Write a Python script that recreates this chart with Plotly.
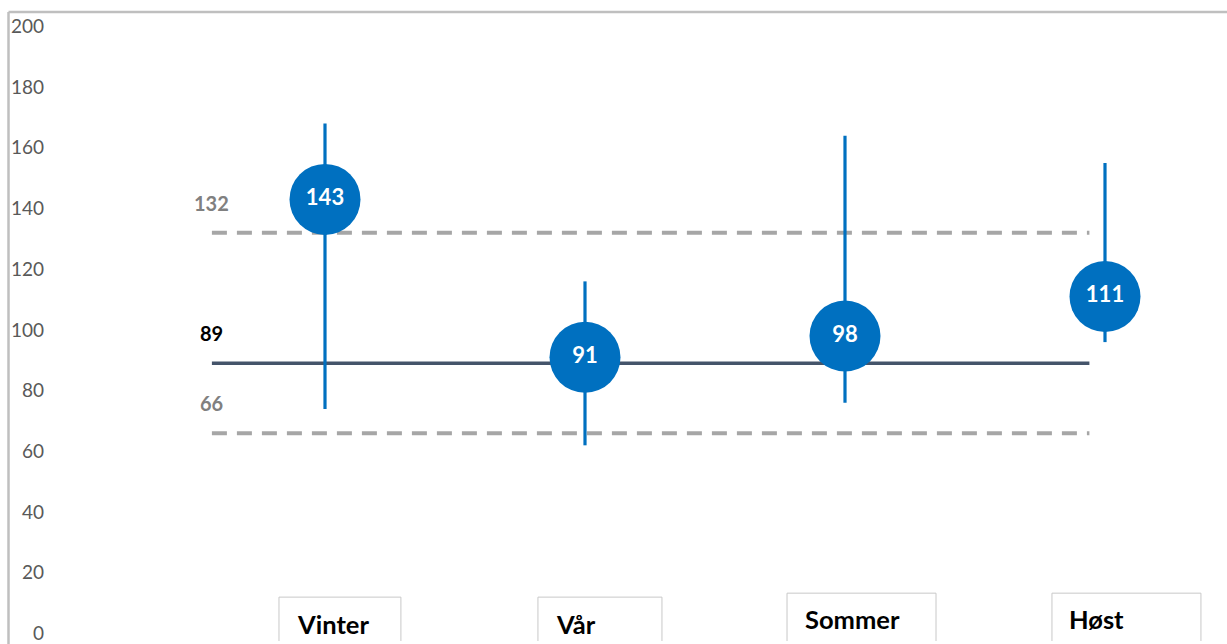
import plotly.graph_objects as go

# ---- data ----
categories = ["Vinter", "Vår", "Sommer", "Høst"]
values = [143, 91, 98, 111]
lows = [74, 62, 76, 96]
highs = [168, 116, 164, 155]
ref_labels = ["132", "89", "66"]
ref_values = [132, 89, 66]
y_ticks = [0, 20, 40, 60, 80, 100, 120, 140, 160, 180, 200]

BLUE = "#0070C0"
GREY_DASH = "#A6A6A6"
MEAN = "#44546A"
FONT = "Lato"

xpos = list(range(len(categories)))
line_x = [-0.435, 2.94]
Y0 = 636.5  # pixel row of value 0
PPU = 3.05  # pixels per unit

fig = go.Figure()

# reference lines (upper/lower dashed, mean solid)
ref_styles = [
    dict(color=GREY_DASH, width=4, dash="15px,10px"),
    dict(color=MEAN, width=3.5, dash="solid"),
    dict(color=GREY_DASH, width=4, dash="15px,10px"),
]
ref_label_colors = ["#808080", "#000000", "#808080"]
for lab, v, st in zip(ref_labels, ref_values, ref_styles):
    fig.add_trace(go.Scatter(x=line_x, y=[v, v], mode="lines", line=st,
                             hoverinfo="skip", showlegend=False))

# points with ranges
fig.add_trace(go.Scatter(
    x=xpos, y=values, mode="markers+text",
    marker=dict(size=71, color=BLUE, line=dict(width=0)),
    text=[str(v) for v in values], textposition="middle center",
    textfont=dict(family=FONT, size=22, color="white", weight="bold"),
    error_y=dict(type="data", symmetric=False,
                 array=[h - v for h, v in zip(highs, values)],
                 arrayminus=[v - l for v, l in zip(values, lows)],
                 color=BLUE, thickness=3.2, width=0),
    showlegend=False, hoverinfo="skip",
))

annotations = []
for lab, v, c in zip(ref_labels, ref_values, ref_label_colors):
    annotations.append(dict(x=line_x[0], y=v, text=f"<b>{lab}</b>", showarrow=False,
                            xanchor="center", yanchor="middle", yshift=30,
                            font=dict(family=FONT, size=20, color=c)))

# category label boxes
box_left = [-0.177, -0.181, -0.223, -0.204]
box_right = [0.292, 0.296, 0.350, 0.369]
box_top = [12.0, 12.0, 13.3, 13.3]
text_x = [-0.114, -0.120, -0.162, -0.147]
text_y = [3.1, 3.1, 4.8, 4.8]
shapes = []
for i, cat in enumerate(categories):
    shapes.append(dict(type="rect", xref="x", yref="y",
                       x0=xpos[i] + box_left[i], x1=xpos[i] + box_right[i],
                       y0=-10, y1=box_top[i],
                       line=dict(color="#C8C8C8", width=1), fillcolor="white", layer="below"))
    annotations.append(dict(x=xpos[i] + text_x[i], y=text_y[i], text=f"<b>{cat}</b>",
                            showarrow=False, xanchor="left", yanchor="middle",
                            font=dict(family=FONT, size=25.5, color="#000000")))

# chart frame (top + left border)
shapes.append(dict(type="line", xref="paper", yref="paper",
                   x0=(8.5 - 48) / 1179, x1=1.01, y0=(644 - 12) / 644, y1=(644 - 12) / 644,
                   line=dict(color="#BFBFBF", width=2.5)))
shapes.append(dict(type="line", xref="paper", yref="paper",
                   x0=(8.5 - 48) / 1179, x1=(8.5 - 48) / 1179, y0=-0.05, y1=(644 - 12) / 644,
                   line=dict(color="#BFBFBF", width=2.5)))

fig.update_layout(
    width=1227, height=644,
    margin=dict(l=48, r=0, t=0, b=0),
    paper_bgcolor="white", plot_bgcolor="white",
    xaxis=dict(range=[(48 - 325) / 260, (1227 - 325) / 260], visible=False, fixedrange=True),
    yaxis=dict(range=[(Y0 - 644) / PPU, Y0 / PPU], tickvals=y_ticks,
               ticktext=[str(t) for t in y_ticks], showgrid=False, zeroline=False,
               showline=False, ticks="", ticklabelstandoff=3, ticklabeloverflow="allow",
               tickfont=dict(family=FONT, size=19, color="#595959"), fixedrange=True),
    shapes=shapes, annotations=annotations, showlegend=False,
)

fig.write_html("out.html", config={"displayModeBar": False},
               post_script="document.body.style.margin='0';document.body.style.overflow='hidden';")
